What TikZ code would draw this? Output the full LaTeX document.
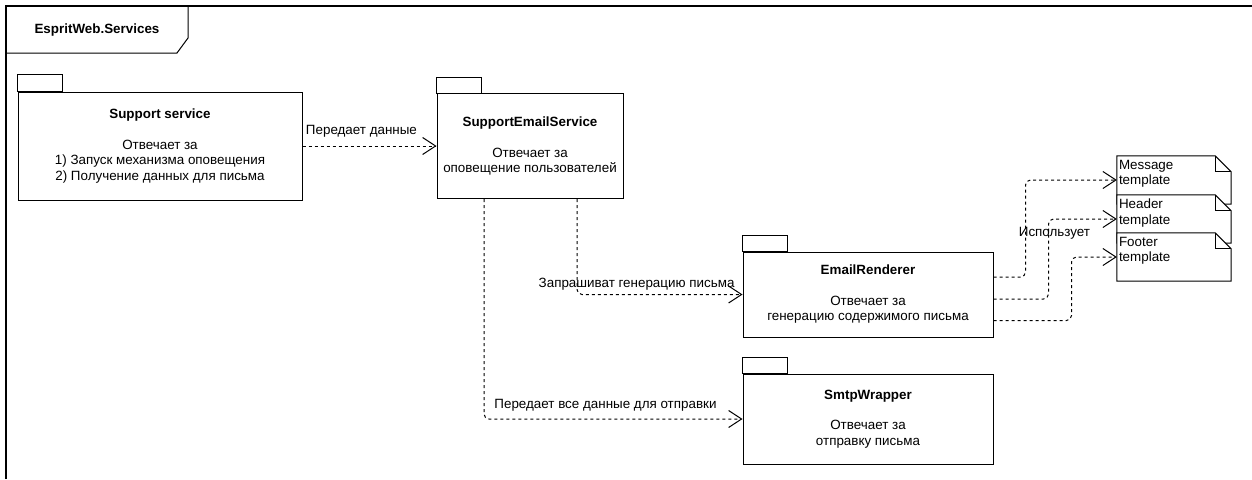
\documentclass[tikz,border=0pt]{standalone}
\usepackage{fontspec}
\setmainfont{Liberation Sans}
\usetikzlibrary{arrows.meta}
\newcommand\dfont{\fontsize{13.4}{15.5}\selectfont}
\begin{document}
\begin{tikzpicture}[x=1pt,y=-1pt,
  every node/.style={font=\dfont},
  pkg/.style={draw, line width=1pt, fill=white, align=center, inner sep=0pt},
  tab/.style={draw, line width=1pt},
  dep/.style={draw, line width=1pt, dash pattern=on 3pt off 3pt, rounded corners=5pt,
    -{Straight Barb[length=13pt,width=17pt,line width=1pt]}},
  lbl/.style={inner sep=1pt},
  note/.style={minimum width=114pt, minimum height=48pt, inner sep=0pt},
  sheet/.style={draw, fill=white, line width=1pt},
  notetext/.style={anchor=north west, align=left, inner xsep=2pt, inner ysep=4pt}
]
\useasboundingbox (0,0) rectangle (1252,479);

% outer frame with its name tab
\draw[line width=1.3pt] (6,479) -- (6,6) -- (1252,6);
\draw[line width=1pt] (6,6) -- (188,6) -- (188,38) -- (177,53) -- (6,53);
\node[font=\dfont\bfseries] (frametitle) at (97,30) {EspritWeb.Services};

% packages
\node[pkg, minimum width=284pt, minimum height=108pt] (supp) at (160,146)
  {\textbf{Support service}\\[15pt]Отвечает за\\1) Запуск механизма оповещения\\2) Получение данных для письма};
\draw[tab] (supp.north west) rectangle ++(45,-17);

\node[pkg, minimum width=186pt, minimum height=105pt] (ses) at (530,146)
  {\textbf{SupportEmailService}\\[15pt]Отвечает за\\оповещение пользователей};
\draw[tab] (ses.north west) rectangle ++(45,-16);

\node[pkg, minimum width=250pt, minimum height=85pt] (er) at (868,294.5)
  {\textbf{EmailRenderer}\\[15pt]Отвечает за\\генерацию содержимого письма};
\draw[tab] (er.north west) rectangle ++(45,-16);

\node[pkg, minimum width=250pt, minimum height=90pt] (smtp) at (868,419)
  {\textbf{SmtpWrapper}\\[15pt]Отвечает за\\отправку письма};
\draw[tab] (smtp.north west) rectangle ++(45,-16);

% template sheets with folded corner
\node[note] (msg) at (1174,180) {};
\filldraw[sheet] (msg.north west) -- ([xshift=-16pt]msg.north east) -- ([yshift=-16pt]msg.north east)
  -- (msg.south east) -- (msg.south west) -- cycle;
\draw[line width=1pt] ([xshift=-16pt]msg.north east) -- ([xshift=-16pt,yshift=-16pt]msg.north east) -- ([yshift=-16pt]msg.north east);
\node[notetext] (msgtext) at (msg.north west) {Message\\template};

\node[note] (hdr) at (1174,219) {};
\filldraw[sheet] (hdr.north west) -- ([xshift=-16pt]hdr.north east) -- ([yshift=-16pt]hdr.north east)
  -- (hdr.south east) -- (hdr.south west) -- cycle;
\draw[line width=1pt] ([xshift=-16pt]hdr.north east) -- ([xshift=-16pt,yshift=-16pt]hdr.north east) -- ([yshift=-16pt]hdr.north east);
\node[notetext] (hdrtext) at (hdr.north west) {Header\\template};

\node[note] (ftr) at (1174,257) {};
\filldraw[sheet] (ftr.north west) -- ([xshift=-16pt]ftr.north east) -- ([yshift=-16pt]ftr.north east)
  -- (ftr.south east) -- (ftr.south west) -- cycle;
\draw[line width=1pt] ([xshift=-16pt]ftr.north east) -- ([xshift=-16pt,yshift=-16pt]ftr.north east) -- ([yshift=-16pt]ftr.north east);
\node[notetext] (ftrtext) at (ftr.north west) {Footer\\template};

% dependencies
\draw[dep] (supp) -- node[lbl, pos=0.44, above=7pt] {Передает данные} (ses);
\draw[dep] ([xshift=47pt]ses.south) |- node[lbl, pos=0.68, yshift=10pt] {Запрашиват генерацию письма} (er.west);
\draw[dep] ([xshift=-46pt]ses.south) |- node[lbl, pos=0.735, yshift=14pt] {Передает все данные для отправки} (smtp.west);

\draw[dep] ([yshift=17.5pt]er.east) -- ++(32,0) |- (msg.west);
\draw[dep] ([yshift=-4.5pt]er.east) -- ++(55,0) |- node[lbl, pos=0.41, xshift=6pt] {Использует} (hdr.west);
\draw[dep] ([yshift=-26pt]er.east) -- ++(78,0) |- (ftr.west);
\end{tikzpicture}
\end{document}
